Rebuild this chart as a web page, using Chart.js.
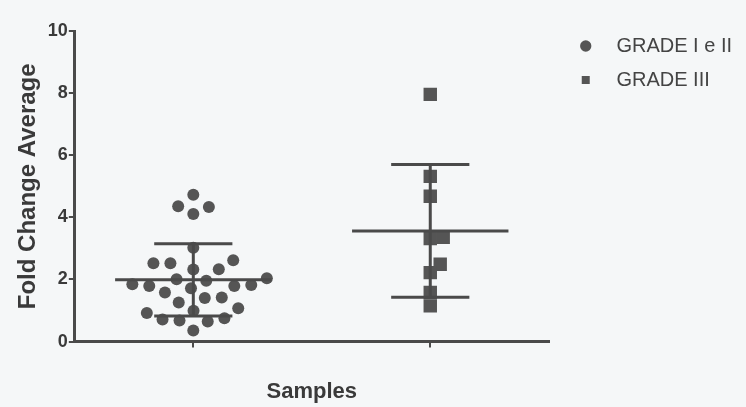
<!DOCTYPE html>
<html>
<head>
<meta charset="utf-8">
<script src="https://cdn.jsdelivr.net/npm/chart.js@4.4.1/dist/chart.umd.min.js"></script>
<style>
  html, body { margin: 0; padding: 0; background: #f5f7f8; }
  #wrap { width: 746px; height: 407px; }
</style>
</head>
<body>
<div id="wrap"><canvas id="chart" width="746" height="407"></canvas></div>
<script>
// groups on the x axis
var groupLabels = ['GRADE I e II', 'GRADE III'];
var groupPositions = [1, 2];

// fold change values
var gradeLowValues = [
  4.73, 4.33, 4.36, 4.11, 3.02,
  2.52, 2.33, 2.32, 2.52, 2.62,
  2.04, 1.96, 1.82, 1.79, 1.58, 1.72, 1.79, 1.85, 2.01,
  1.40, 1.26, 1.42,
  1.07, 0.99, 0.92,
  0.75, 0.68, 0.65, 0.71, 0.36
];
var gradeHighValues = [7.96, 5.32, 4.68, 3.36, 3.32, 2.49, 2.22, 1.58, 1.15];

var yTicks = [0, 2, 4, 6, 8, 10];

var ink = '#4a4a4a';
var textInk = '#3a3a3a';

function mean(arr) {
  var s = 0;
  arr.forEach(function (v) { s += v; });
  return s / arr.length;
}
function sd(arr) {
  var m = mean(arr), s = 0;
  arr.forEach(function (v) { s += (v - m) * (v - m); });
  return Math.sqrt(s / (arr.length - 1));
}

// spread points sideways so they don't overlap (simple beeswarm, in pixels)
function swarm(values, centerPx, yScale, minDist) {
  var order = values.map(function (v, i) { return i; });
  order.sort(function (a, b) { return values[a] - values[b]; });
  var placed = [];
  var offsets = new Array(values.length);
  order.forEach(function (i) {
    var y = yScale.getPixelForValue(values[i]);
    var cands = [0];
    placed.forEach(function (p) {
      var dy = y - p.y;
      if (Math.abs(dy) < minDist) {
        var dx = Math.sqrt(minDist * minDist - dy * dy);
        cands.push(p.off + dx, p.off - dx);
      }
    });
    cands.sort(function (a, b) { return Math.abs(a) - Math.abs(b); });
    var off = 0;
    for (var c = 0; c < cands.length; c++) {
      var ok = placed.every(function (p) {
        var dx = cands[c] - p.off, dy = y - p.y;
        return dx * dx + dy * dy >= minDist * minDist - 0.5;
      });
      if (ok) { off = cands[c]; break; }
    }
    placed.push({ y: y, off: off });
    offsets[i] = off;
  });
  return offsets;
}

var groups = [gradeLowValues, gradeHighValues];

var errorBars = {
  id: 'errorBars',
  afterDatasetsDraw: function (chart) {
    var ctx = chart.ctx;
    var xs = chart.scales.x, ys = chart.scales.y;
    ctx.save();
    ctx.strokeStyle = ink;
    ctx.lineWidth = 3;
    groups.forEach(function (vals, g) {
      var m = mean(vals), s = sd(vals);
      var xc = groupPositions[g];
      var yMean = ys.getPixelForValue(m);
      var yTop = ys.getPixelForValue(m + s);
      var yBot = ys.getPixelForValue(m - s);
      ctx.beginPath();
      ctx.moveTo(xs.getPixelForValue(xc - 0.33), yMean);
      ctx.lineTo(xs.getPixelForValue(xc + 0.33), yMean);
      ctx.moveTo(xs.getPixelForValue(xc), yTop);
      ctx.lineTo(xs.getPixelForValue(xc), yBot);
      ctx.moveTo(xs.getPixelForValue(xc - 0.165), yTop);
      ctx.lineTo(xs.getPixelForValue(xc + 0.165), yTop);
      ctx.moveTo(xs.getPixelForValue(xc - 0.165), yBot);
      ctx.lineTo(xs.getPixelForValue(xc + 0.165), yBot);
      ctx.stroke();
    });
    ctx.restore();
  }
};

var bg = {
  id: 'bg',
  beforeDraw: function (chart) {
    var ctx = chart.ctx;
    ctx.save();
    ctx.fillStyle = '#f5f7f8';
    ctx.fillRect(0, 0, chart.width, chart.height);
    ctx.restore();
  }
};

// legend sits in the right margin, higher than the plot top
var legendNudge = {
  id: 'legendNudge',
  afterLayout: function (chart) {
    var lg = chart.legend;
    lg.left += 19; lg.right += 19;
    lg.top -= 9; lg.bottom -= 9;
  }
};

var chart = new Chart(document.getElementById('chart'), {
  type: 'scatter',
  data: {
    datasets: [
      {
        label: groupLabels[0],
        data: gradeLowValues.map(function (v) { return { x: groupPositions[0], y: v }; }),
        pointStyle: 'circle',
        pointRadius: 6,
        pointHoverRadius: 6,
        backgroundColor: '#555555',
        borderColor: '#555555',
        borderWidth: 0
      },
      {
        label: groupLabels[1],
        data: gradeHighValues.map(function (v) { return { x: groupPositions[1], y: v }; }),
        pointStyle: 'rect',
        pointRadius: 9.5,
        pointHoverRadius: 9.5,
        backgroundColor: '#555555',
        borderColor: '#555555',
        borderWidth: 0
      }
    ]
  },
  options: {
    responsive: false,
    animation: false,
    layout: { padding: { left: 14, top: 31, right: 23, bottom: 2 } },
    scales: {
      x: {
        type: 'linear',
        min: 0.5,
        max: 2.5,
        afterBuildTicks: function (scale) {
          scale.ticks = groupPositions.map(function (p) { return { value: p }; });
        },
        ticks: { display: false },
        grid: { drawOnChartArea: false, drawTicks: true, tickLength: 6, color: ink, lineWidth: 2 },
        border: { color: ink, width: 3 },
        title: {
          display: true,
          text: 'Samples',
          color: textInk,
          font: { family: 'Liberation Sans, Arial, sans-serif', size: 22, weight: 'bold' },
          padding: { top: 31, bottom: 0 }
        }
      },
      y: {
        min: 0,
        max: 10,
        afterBuildTicks: function (scale) {
          scale.ticks = yTicks.map(function (v) { return { value: v }; });
        },
        ticks: {
          color: textInk,
          padding: 1,
          font: { family: 'Liberation Sans, Arial, sans-serif', size: 18, weight: 'bold' }
        },
        grid: { drawOnChartArea: false, drawTicks: true, tickLength: 6, color: ink, lineWidth: 2 },
        border: { color: ink, width: 3 },
        title: {
          display: true,
          text: 'Fold Change Average',
          color: textInk,
          font: { family: 'Liberation Sans, Arial, sans-serif', size: 24, weight: 'bold' },
          padding: { top: 0, bottom: 4 }
        }
      }
    },
    plugins: {
      legend: {
        position: 'right',
        align: 'start',
        labels: {
          usePointStyle: true,
          boxWidth: 8,
          boxHeight: 8,
          padding: 14,
          color: '#444444',
          font: { family: 'Liberation Sans, Arial, sans-serif', size: 20 },
          generateLabels: function (chart) {
            var items = Chart.defaults.plugins.legend.labels.generateLabels(chart);
            items.forEach(function (it) {
              it.text = '   ' + it.text;
              it.lineWidth = 0;
            });
            return items;
          }
        }
      },
      tooltip: { enabled: false }
    }
  },
  plugins: [bg, errorBars, legendNudge]
});

// second pass: spread the dots now that the scales know their pixels
groups.forEach(function (vals, g) {
  var xs = chart.scales.x, ys = chart.scales.y;
  var center = xs.getPixelForValue(groupPositions[g]);
  var offs = swarm(vals, center, ys, g === 0 ? 17 : 13);
  chart.data.datasets[g].data = vals.map(function (v, i) {
    return { x: xs.getValueForPixel(center + offs[i]), y: v };
  });
});
chart.update('none');
</script>
</body>
</html>
